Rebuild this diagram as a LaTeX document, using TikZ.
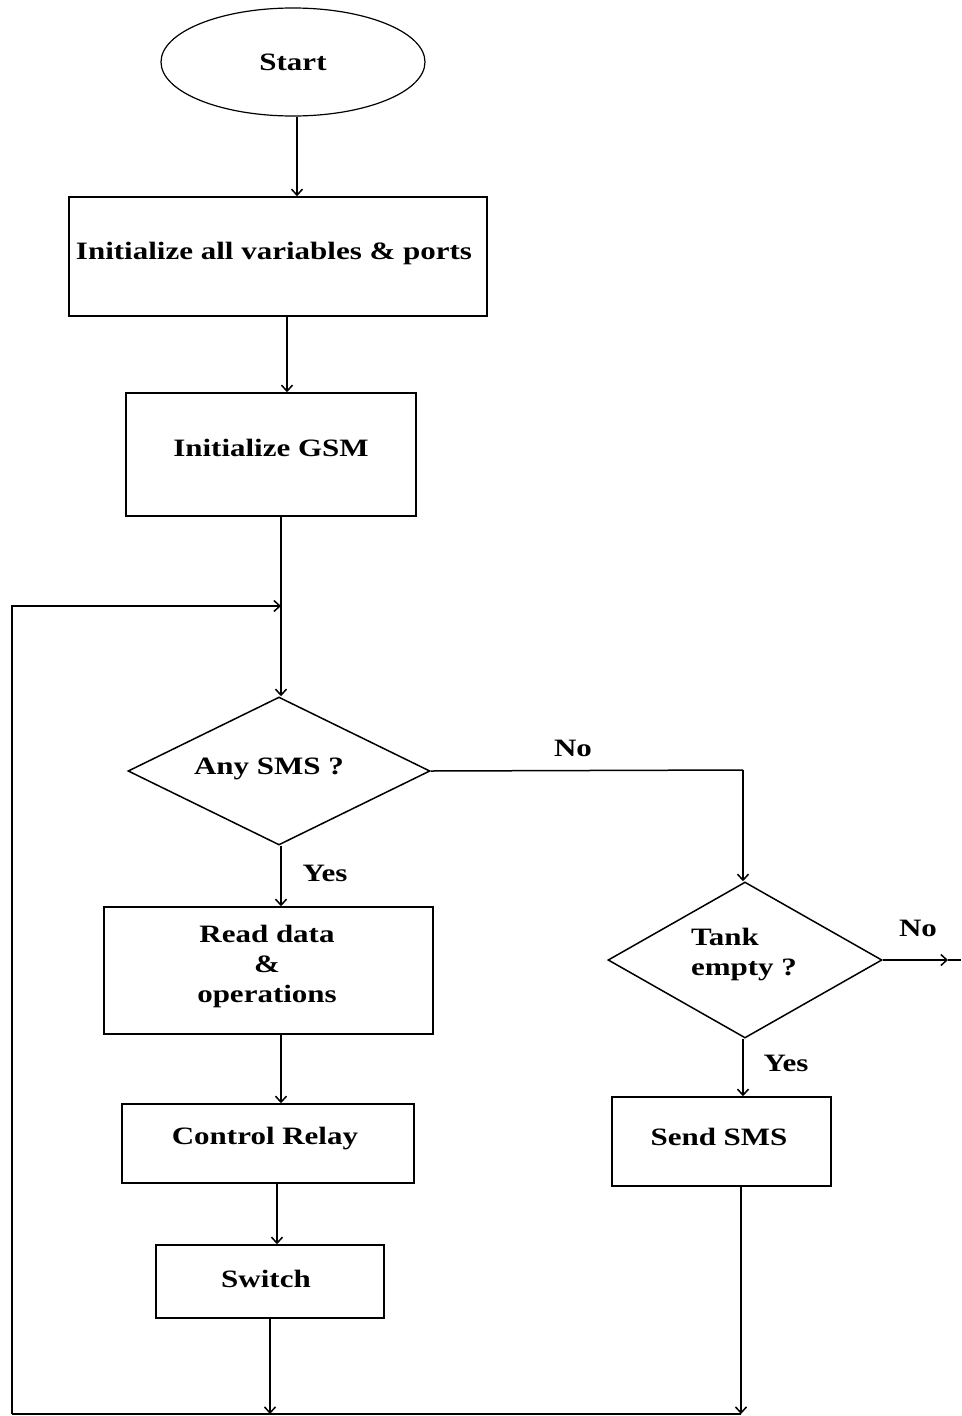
\documentclass[tikz,border=0pt]{standalone}
\usepackage{fontspec}
\setmainfont{Liberation Serif}[FakeStretch=1.24]
\usetikzlibrary{arrows.meta,shapes.geometric}
\begin{document}
\begin{tikzpicture}[x=1pt,y=-1pt,
  line width=1.5pt,
  every node/.style={font=\fontsize{25}{30}\selectfont\bfseries},
  procbox/.style={draw,rectangle,inner sep=0pt},
  decision/.style={draw,diamond,inner sep=0pt},
  lbl/.style={inner sep=0pt},
  arr/.style={-{Straight Barb[length=6pt,width=11pt]}}]
\useasboundingbox (0,0) rectangle (961,1416);
% nodes
\node[draw,ellipse,line width=1.2pt,minimum width=264pt,minimum height=108pt,inner sep=0pt] (start) at (293,62) {Start};
\node[procbox,minimum width=418pt,minimum height=119pt] (b1) at (278,256.5) {};
\node[lbl] (b1t) at (274,253) {Initialize all variables \& ports};
\node[procbox,minimum width=290pt,minimum height=123pt] (b2) at (271,454.5) {};
\node[lbl] (b2t) at (271,448) {Initialize GSM};
\node[decision,minimum width=302pt,minimum height=148pt] (d1) at (279,771) {};
\node[lbl] (d1t) at (269,769) {Any SMS ?};
\node[procbox,minimum width=329pt,minimum height=127pt] (b3) at (268.5,970.5) {};
\node[lbl,align=center] (b3t) at (267,966) {Read data\\\&\\operations};
\node[procbox,minimum width=292pt,minimum height=79pt] (b4) at (268,1143.5) {};
\node[lbl] (b4t) at (265,1139) {Control Relay};
\node[procbox,minimum width=228pt,minimum height=73pt] (b5) at (270,1281.5) {};
\node[lbl] (b5t) at (266,1279) {Switch};
\node[decision,minimum width=274pt,minimum height=156pt] (d2) at (745,960) {};
\node[lbl,align=left] (d2t) at (744,955) {Tank\\empty ?};
\node[procbox,minimum width=219pt,minimum height=89pt] (b6) at (721.5,1141.5) {};
\node[lbl] (b6t) at (719,1137) {Send SMS};
% labels
\node[lbl] (no1) at (573,748) {No};
\node[lbl] (yes1) at (325,873) {Yes};
\node[lbl] (no2) at (918,928) {No};
\node[lbl] (yes2) at (786,1063) {Yes};
% coordinates
\coordinate (bl) at (12,1414);
\coordinate (br) at (741,1414);
\coordinate (lt) at (12,606);
\coordinate (join) at (281,606);
\coordinate (c1) at (743,770);
\coordinate (noend) at (948,960);
\coordinate (edge) at (961,960);
% connectors
\draw[arr] (start.south -| 297,0) -- (b1.north -| 297,0);
\draw[arr] (b1.south -| 287,0) -- (b2.north -| 287,0);
\draw (b2.south -| join) -- (join);
\draw[arr] (join) -- (d1.north -| join);
\draw[arr] (bl) -- (lt) -- (join);
\draw (d1.east) -- (c1);
\draw[arr] (c1) -- (d2.north -| c1);
\draw[arr] (d1.south -| join) -- (b3.north -| join);
\draw[arr] (b3.south -| join) -- (b4.north -| join);
\draw[arr] (b4.south -| 277,0) -- (b5.north -| 277,0);
\draw[arr] (b5.south) -- (b5.south |- bl);
\draw[arr] (d2.east) -- (noend);
\draw (noend) -- (edge);
\draw[arr] (d2.south -| c1) -- (b6.north -| c1);
\draw[arr] (b6.south -| br) -- (br);
\draw (bl) -- (br);
\end{tikzpicture}
\end{document}
